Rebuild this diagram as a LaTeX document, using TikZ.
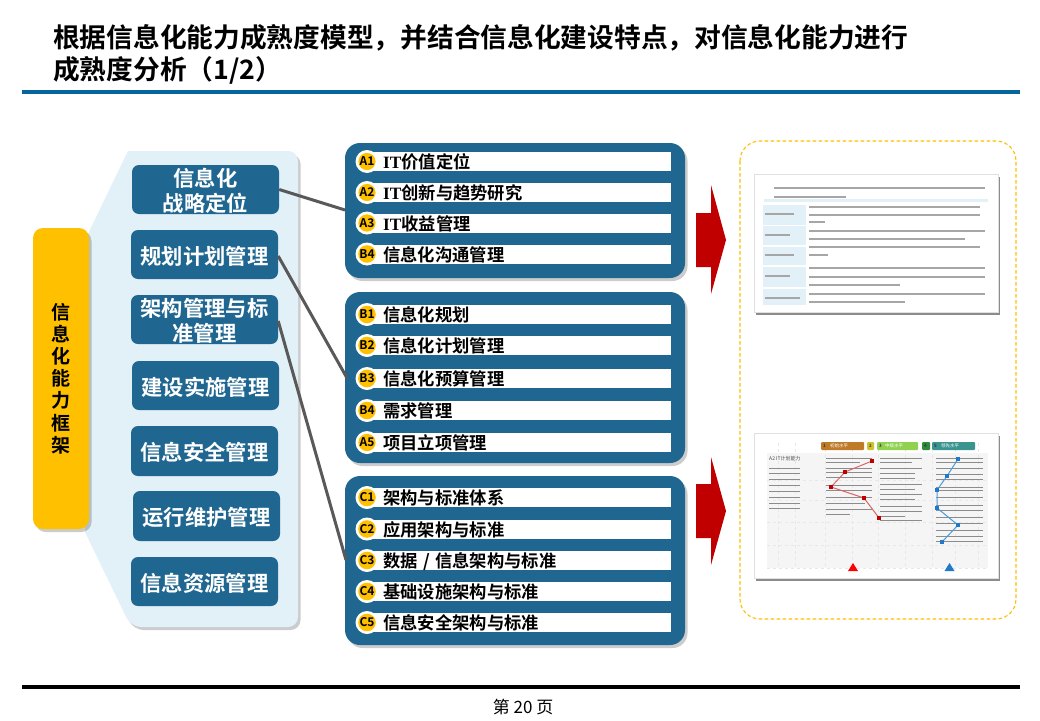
\documentclass[tikz,border=0pt]{standalone}
\usepackage{fontspec}
\usetikzlibrary{shadows,calc}
\setmainfont{Noto Sans CJK SC}[BoldFont={Noto Sans CJK SC Bold}]
\newfontfamily\latinserif{Liberation Serif}[BoldFont={Liberation Serif Bold}]
\definecolor{navy}{HTML}{1F6690}
\definecolor{rulebl}{HTML}{06659D}
\definecolor{paleb}{HTML}{E2F0F8}
\definecolor{gold}{HTML}{FFC000}
\definecolor{crim}{HTML}{C00000}
\definecolor{conn}{HTML}{595959}
\definecolor{lgbrown}{HTML}{BF7A28}
\definecolor{lgyel}{HTML}{CCC22E}
\definecolor{lggreen}{HTML}{92D050}
\definecolor{lgdark}{HTML}{2E8B3A}
\definecolor{lgteal}{HTML}{3A9490}
\definecolor{bluel}{HTML}{4A9BD8}
\definecolor{bluem}{HTML}{1F78C8}
\tikzset{
 softshadow/.style={drop shadow={shadow xshift=2.5pt,shadow yshift=-3pt,fill=black,opacity=.2}},
 lbox/.style={fill=navy,rounded corners=7pt,inner sep=0pt,minimum width=147pt},
 ltext/.style={text=white,font=\bfseries\fontsize{21.3}{24.5}\selectfont,align=center,inner sep=0pt,yshift=-1.5pt},
 panelbox/.style={fill=navy,rounded corners=15pt,softshadow},
 whitebar/.style={fill=white,anchor=west,minimum width=299pt,minimum height=19pt,inner sep=0pt},
 barlabel/.style={anchor=west,font=\bfseries\fontsize{17.3}{20}\selectfont,text=black,inner sep=0pt},
 badgeo/.style={circle,fill=white,minimum size=23pt,inner sep=0pt},
 badgei/.style={circle,fill=gold,minimum size=17pt,inner sep=0pt,font=\bfseries\fontsize{12}{12}\selectfont,text=black},
 linkline/.style={draw=conn,line width=3pt},
 thumb/.style={fill=white,draw=black!12,line width=.5pt,drop shadow={shadow xshift=1.5pt,shadow yshift=-2.5pt,fill=black,opacity=.45}},
 redarrow/.style={fill=crim},
 gridln/.style={draw=black!9,line width=.5pt,dashed},
}
\newcommand{\barrow}[4]{% name, y, badge text, label
 \node[whitebar] (#1bar) at (372,#2) {};
 \node[badgeo] (#1o) at (367,#2) {};
 \node[badgei] (#1) at (367,#2) {#3};
 \node[barlabel] (#1t) at (383,#2+0.7) {#4};
}
\begin{document}
\begin{tikzpicture}[x=1pt,y=-1pt]
\useasboundingbox (0,0) rectangle (1040,720);
\fill[white] (0,0) rectangle (1040,720);
% header
\node[anchor=west,inner sep=0pt,font=\bfseries\fontsize{26.72}{32}\selectfont] (title1) at (53,38) {根据信息化能力成熟度模型，并结合信息化建设特点，对信息化能力进行};
\node[anchor=west,inner sep=0pt,font=\bfseries\fontsize{26.72}{32}\selectfont] (title2) at (53,70) {成熟度分析（1/2）};
\fill[rulebl] (22,90) rectangle (1020,94);
% footer
\fill[black] (22,685) rectangle (1020,689);
\node[inner sep=0pt,font=\fontsize{17}{18}\selectfont] (pageno) at (523,707) {第 20 页};
% pale panel
\fill[paleb,softshadow,rounded corners=10pt] (85,240) [sharp corners] -- (128,151) [rounded corners=10pt] -- (298,151) -- (298,627) -- (131,627) [sharp corners] -- (85,532) -- cycle;
% gold box
\node[fill=gold,rounded corners=10pt,softshadow,minimum width=56pt,minimum height=301pt,inner sep=0pt,align=center,font=\bfseries\fontsize{19}{22.2}\selectfont] (frame) at (61,378.5) {信\\息\\化\\能\\力\\框\\架};
% left boxes
\node[lbox,minimum height=49pt] (s1) at (205.5,189.5) {};
\node[ltext] (s1t) at (s1.center) {信息化\\战略定位};
\node[lbox,minimum height=49pt] (s2) at (204.5,254.5) {};
\node[ltext] (s2t) at (s2.center) {规划计划管理};
\node[lbox,minimum height=49pt] (s3) at (204.5,319.5) {};
\node[ltext] (s3t) at (s3.center) {架构管理与标\\准管理};
\node[lbox,minimum height=49pt] (s4) at (205.5,385.5) {};
\node[ltext] (s4t) at (s4.center) {建设实施管理};
\node[lbox,minimum height=50pt] (s5) at (204.5,451) {};
\node[ltext] (s5t) at (s5.center) {信息安全管理};
\node[lbox,minimum height=50pt] (s6) at (206.5,516) {};
\node[ltext] (s6t) at (s6.center) {运行维护管理};
\node[lbox,minimum height=49pt] (s7) at (204.5,581.5) {};
\node[ltext] (s7t) at (s7.center) {信息资源管理};
% right panels
\node[panelbox,minimum width=340pt,minimum height=135pt,inner sep=0pt] (p1) at (515,210.5) {};
\node[panelbox,minimum width=340pt,minimum height=171pt,inner sep=0pt] (p2) at (515,377.5) {};
\node[panelbox,minimum width=340pt,minimum height=169pt,inner sep=0pt] (p3) at (515,560.5) {};
% rows
\barrow{a1}{161.5}{A1}{{\latinserif IT}价值定位}
\barrow{a2}{192.5}{A2}{{\latinserif IT}创新与趋势研究}
\barrow{a3}{223}{A3}{{\latinserif IT}收益管理}
\barrow{b4x}{254}{B4}{信息化沟通管理}
\barrow{b1}{314.5}{B1}{信息化规划}
\barrow{b2}{345.5}{B2}{信息化计划管理}
\barrow{b3}{378.5}{B3}{信息化预算管理}
\barrow{b4}{410.5}{B4}{需求管理}
\barrow{a5}{442.5}{A5}{项目立项管理}
\barrow{c1}{497.5}{C1}{架构与标准体系}
\barrow{c2}{529}{C2}{应用架构与标准}
\barrow{c3}{560.5}{C3}{数据\hspace{1.5pt} / \hspace{1.5pt}信息架构与标准}
\barrow{c4}{591.5}{C4}{基础设施架构与标准}
\barrow{c5}{622.5}{C5}{信息安全架构与标准}
% connectors
\coordinate (e1) at (345,210);
\coordinate (e2) at (347,378);
\coordinate (e3) at (346,560);
\draw[linkline] (s1.east) -- (e1);
\draw[linkline] (s2.east) ++(0,1.5) -- (e2);
\draw[linkline] (s3.east) ++(0,1.5) -- (e3);
% arrows
\fill[redarrow] (696,213) -- (711,213) -- (711,185) -- (726,240) -- (711,294) -- (711,267) -- (696,267) -- cycle;
\fill[redarrow] (696,484) -- (711,484) -- (711,457) -- (726,511) -- (711,565) -- (711,538) -- (696,538) -- cycle;
% dashed frame
\draw[gold,line width=1.1pt,dash pattern=on 3.5pt off 2.5pt,rounded corners=20pt] (740,141) rectangle (1016,619);
% thumbnail 1
\node[thumb,minimum width=244pt,minimum height=138pt,inner sep=0pt] (t1) at (876,243) {};
\foreach \ya/\yb in {205/225,226/245,247/265,267/287,289/305}
  \fill[paleb] (763,\ya) rectangle (806,\yb);
\fill[paleb] (764,199) rectangle (988,202);
\foreach \xa/\xb/\y in {774/985/188,774/846/197,
 809/980/207,809/980/215,809/825/222,
 809/985/231,809/965/239,
 809/980/247,809/828/255,
 809/985/268,809/985/277,809/900/285,
 809/985/294,809/905/302,
 765/794/214,765/790/235,765/794/255,765/790/276,765/800/298}
  \draw[black!35,line width=1.2pt] (\xa,\y) -- (\xb,\y);
% thumbnail 2
\node[thumb,minimum width=244pt,minimum height=145pt,inner sep=0pt] (t2) at (876,505.5) {};
\fill[black!4] (767,453) rectangle (988,568);
\foreach \x in {778,795,825,852,878,905,932,955,978}
  \draw[gridln] (\x,443) -- (\x,568);
\foreach \y in {480,500,522,545,568}
  \draw[gridln] (767,\y) -- (988,\y);
\foreach \xa/\xb/\c in {821/864/lgbrown,867/874/lgyel,877/918/lggreen,922/930/lgdark,932/975/lgteal}
  \fill[\c,rounded corners=1pt] (\xa,442) rectangle (\xb,450);
\foreach \x/\t in {823/1,869/2,879/3,924/4,934/5}
  \node[anchor=west,inner sep=0pt,text=black!80,font=\bfseries\fontsize{4.5}{5}\selectfont] at (\x,446) {\t};
\foreach \x/\t in {830/初始水平,885/中级水平,941/领先水平}
  \node[anchor=west,inner sep=0pt,text=white,font=\fontsize{4.5}{5}\selectfont] at (\x,446) {\t};
\node[anchor=west,inner sep=0pt,font=\fontsize{5}{6}\selectfont,text=black!70] at (769,458.5) {A2 IT计划能力};
\foreach \xa/\xb/\y in {769/800/468,769/800/473,769/800/479,769/800/485,769/800/491,769/800/497,769/800/503,769/800/508,
 826/872/458,826/860/462,826/872/468,826/872/472,826/872/477,826/872/485,826/872/490,826/872/497,826/865/503,826/872/509,826/850/514,
 880/922/458,880/912/462,880/922/468,880/915/473,880/915/478,880/922/484,880/915/489,880/922/494,880/915/499,880/922/506,880/922/511,880/905/516,880/922/520,
 936/983/458,936/983/462,936/983/468,936/983/474,936/983/479,936/983/487,936/983/490,936/983/497,936/983/505,936/983/510,936/983/517,936/983/523,936/983/530,936/983/536,936/983/541}
  \draw[black!45,line width=1pt] (\xa,\y) -- (\xb,\y);
\draw[crim!60!white,line width=1pt] (872,461) -- (845,472) -- (831,487) -- (864,498) -- (879,518);
\foreach \x/\y in {872/461,845/472,831/487,864/498,879/518}
  \fill[crim] (\x-2,\y-2) rectangle (\x+2,\y+2);
\draw[bluel,line width=1pt] (958,459) -- (947,476) -- (937,490) -- (937,508) -- (958,525) -- (942,542);
\foreach \x/\y in {958/459,947/476,937/490,937/508,958/525,942/542}
  \fill[bluem] (\x-2,\y-2) rectangle (\x+2,\y+2);
\fill[red] (853,563) -- (858,571) -- (848,571) -- cycle;
\fill[bluem] (949.5,563) -- (954.5,571) -- (944.5,571) -- cycle;
\end{tikzpicture}
\end{document}
